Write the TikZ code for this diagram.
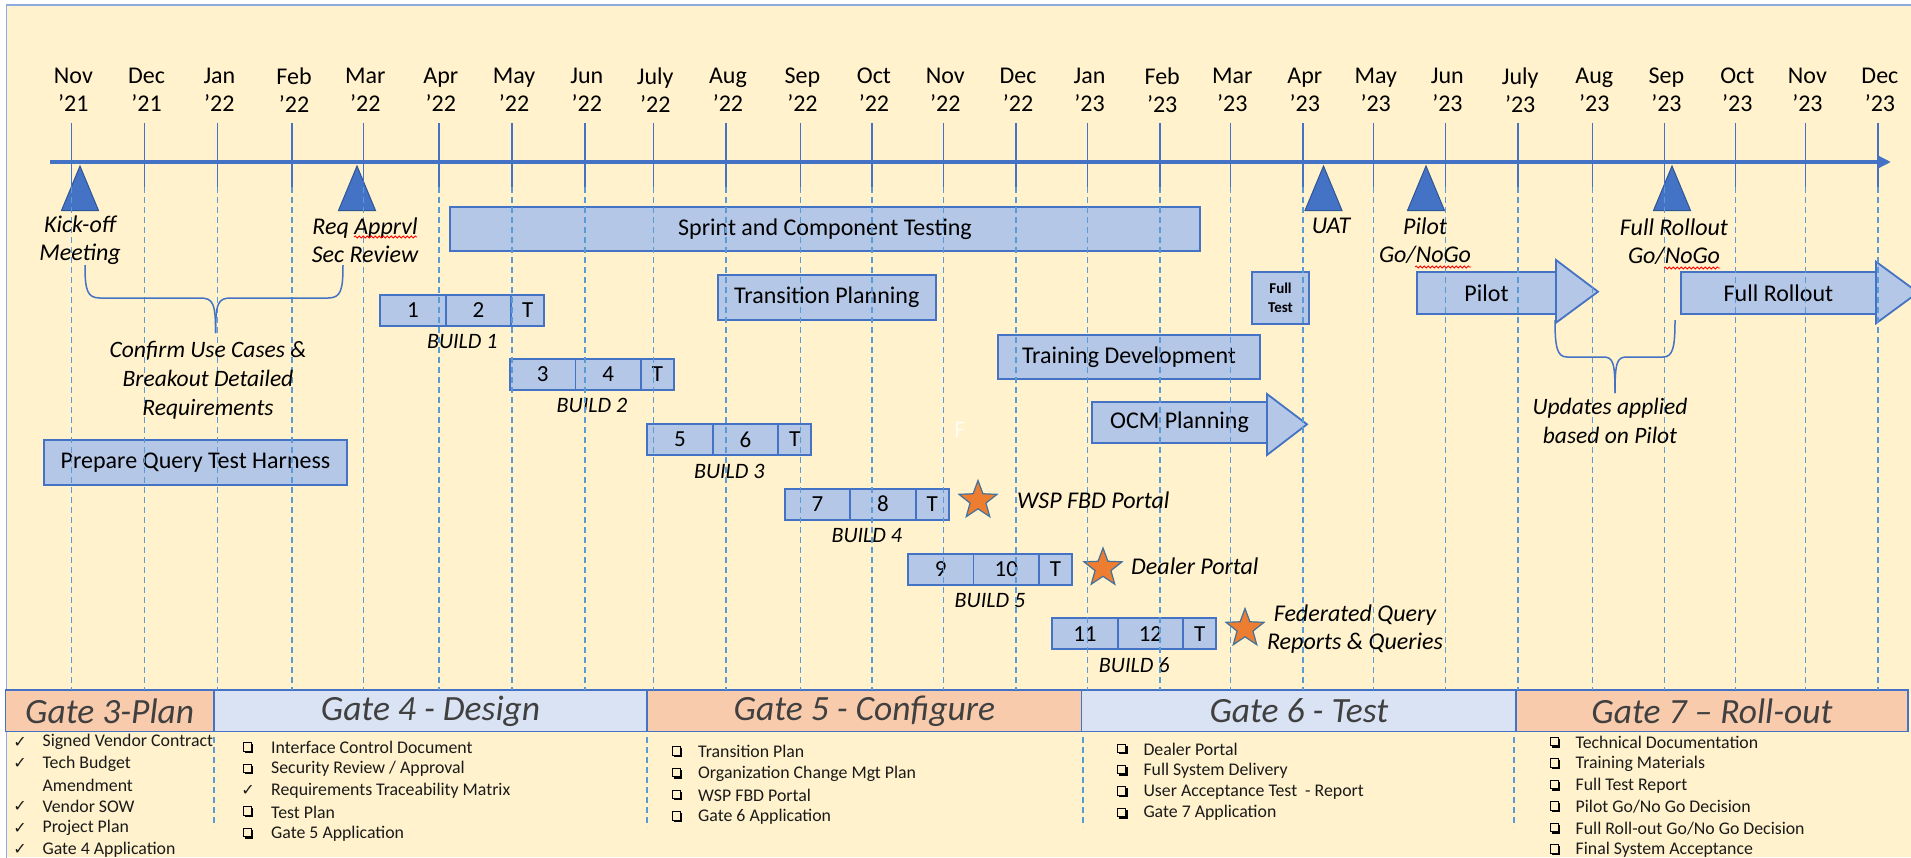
\documentclass[tikz,border=0pt]{standalone}
\usepackage{fontspec}
\setmainfont{Carlito}
\newfontfamily\djv{DejaVu Sans}
\usetikzlibrary{shapes.geometric,arrows.meta,calc,decorations.pathmorphing}
\definecolor{bgc}{HTML}{FFF2CC}
\definecolor{boxf}{HTML}{B4C7E7}
\definecolor{boxd}{HTML}{4472C4}
\definecolor{darkb}{HTML}{2F5597}
\definecolor{dashc}{HTML}{5B9BD5}
\definecolor{starf}{HTML}{ED7D31}
\definecolor{stard}{HTML}{41719C}
\definecolor{gor}{HTML}{F8CBAD}
\definecolor{gbl}{HTML}{DAE3F3}
\definecolor{framec}{HTML}{8FAADC}
\definecolor{gtxt}{HTML}{404040}
\definecolor{dtxt}{HTML}{1A1A1A}
% build box: #1 prefix, #2 x, #3 y, #4 first, #5 second, #6 label
\newcommand\buildbox[6]{%
  \node[cell, minimum width=65.5pt, anchor=north west] (#1a) at (#2,#3) {#4};
  \node[cell, minimum width=65.5pt, anchor=north west] (#1b) at (#1a.north east) {#5};
  \node[cell, minimum width=33pt, anchor=north west] (#1c) at (#1b.north east) {T};
  \node[buildlbl] (#1l) at ($(#1a.north west)+(82,47)$) {#6};
}
\begin{document}
\begin{tikzpicture}[x=1pt,y=-1pt,
  box/.style={draw=boxd, fill=boxf, line width=1.8pt, inner sep=0pt, outer sep=0pt,
    font=\fontsize{24}{28}\selectfont, text=black},
  cell/.style={box, minimum height=31pt, font=\fontsize{23}{27}\selectfont},
  month/.style={align=center, font=\fontsize{24}{28}\selectfont, inner sep=0pt},
  mlabel/.style={align=center, font=\itshape\fontsize{24}{28}\selectfont, inner sep=0pt},
  blabel/.style={align=center, font=\itshape\fontsize{23.5}{29}\selectfont, inner sep=0pt},
  buildlbl/.style={font=\itshape\fontsize{22}{26}\selectfont, inner sep=0pt},
  slabel/.style={font=\itshape\fontsize{24}{28}\selectfont, inner sep=0pt},
  gate/.style={draw=boxd, line width=1.5pt, inner sep=0pt, outer sep=0pt, anchor=north west,
    minimum height=41.7pt, font=\itshape\fontsize{35.5}{40}\selectfont, text=gtxt},
  deliv/.style={anchor=west, inner sep=0pt, font=\fontsize{17.8}{20}\selectfont, text=dtxt},
  chkn/.style={inner sep=0pt, font=\djv\fontsize{16}{18}\selectfont, text=dtxt},
  tickln/.style={draw=boxd, line width=1.5pt},
  dashln/.style={draw=dashc, line width=1.5pt, dash pattern=on 6pt off 4pt},
  bracel/.style={draw=boxd, line width=1.5pt},
  squig/.style={draw=red, line width=0.8pt, decorate, decoration={snake, amplitude=1pt, segment length=4pt}},
  mstone/.style={fill=boxd, draw=darkb, line width=1pt, line join=miter},
  ahead/.style={draw=boxd, fill=boxf, line width=1.8pt, line join=miter},
  starn/.style={star, star points=5, star point ratio=2.4, minimum size=40pt, inner sep=0pt,
    fill=starf, draw=stard, line width=1.2pt},
  sqb/.pic={\draw[line width=1pt] (-5,-5) rectangle (3.5,3.5);
            \fill (-3.5,3.5) rectangle (5.3,5.3); \fill (3.5,-3.5) rectangle (5.3,5.3);}
]
\useasboundingbox (0,0) rectangle (1911,857);
% background and frame
\fill[white] (0,0) rectangle (1911,857);
\fill[bgc] (6,5) rectangle (1911,857);
\draw[framec, line width=1.5pt] (6.5,870) -- (6.5,5) -- (1930,5);

% gate bars
\node[gate, fill=gor, minimum width=208.6pt] (g3) at (5.4,690) {Gate 3-Plan};
\node[gate, fill=gbl, minimum width=433pt] (g4) at (214,690) {Gate 4 - Design};
\node[gate, fill=gor, minimum width=434.7pt] (g5) at (647,690) {Gate 5 - Configure};
\node[gate, fill=gbl, minimum width=434.3pt] (g6) at (1081.7,690) {Gate 6 - Test};
\node[gate, fill=gor, minimum width=392pt] (g7) at (1516,690) {Gate 7 – Roll-out};

% milestone triangles
\foreach \cx in {80,357,1323.5,1426,1672}
  \draw[mstone] (\cx-18.5,210.5) -- (\cx,166) -- (\cx+18.5,210.5) -- cycle;

% activity boxes
\node[box, minimum width=303pt, minimum height=45pt] (prep) at (195.5,462.5) {Prepare Query Test Harness};
\node[box, minimum width=750pt, minimum height=44pt] (sprint) at (825,229) {Sprint and Component Testing};
\node[box, minimum width=217.7pt, minimum height=45pt] (trans) at (826.8,297.2) {Transition Planning};
\node[box, minimum width=57.5pt, minimum height=52.3pt, align=center,
  font=\bfseries\fontsize{15}{19}\selectfont] (ftest) at (1280.5,297.8) {Full\\Test};
\node[box, minimum width=262pt, minimum height=44pt] (train) at (1129,357) {Training Development};
% block arrows
\draw[ahead] (1267,394) -- (1307,424.3) -- (1267,455) -- cycle;
\node[box, minimum width=175pt, minimum height=41.7pt] (ocm) at (1179.5,422.5) {OCM Planning};
\draw[ahead] (1556,260) -- (1598,291.7) -- (1556,322.7) -- cycle;
\node[box, minimum width=139pt, minimum height=42.6pt] (pilot) at (1486.5,293) {Pilot};
\draw[ahead] (1876,261.7) -- (1918,292.5) -- (1876,323.3) -- cycle;
\node[box, minimum width=195pt, minimum height=42.6pt] (frol) at (1778.5,293) {Full Rollout};

% builds
\buildbox{bA}{380.3}{295}{1}{2}{BUILD 1}
\buildbox{bB}{510}{358.7}{3}{4}{BUILD 2}
\buildbox{bC}{647.3}{424}{5}{6}{BUILD 3}
\buildbox{bD}{784.8}{488.7}{7}{8}{BUILD 4}
\buildbox{bE}{908}{553.7}{9}{10}{BUILD 5}
\buildbox{bF}{1052.2}{618.3}{11}{12}{BUILD 6}

% stars
\node[starn] (s1) at (978,500.5) {};
\node[starn] (s2) at (1103,568) {};
\node[starn] (s3) at (1245,628.5) {};

% axis
\coordinate (axs) at (50,162);
\coordinate (axe) at (1891,162);
\draw[boxd, line width=4pt, -{Triangle[length=13pt,width=12pt]}] (axs) -- (axe);

% months, ticks, dashed lines
\foreach \x/\m/\yy [count=\i] in {71.4/Nov/’21, 144.6/Dec/’21, 217.4/Jan/’22, 292/Feb/’22,
  363.4/Mar/’22, 438.8/Apr/’22, 512/May/’22, 584.8/Jun/’22, 653.3/July/’22, 725.9/Aug/’22,
  800.4/Sep/’22, 871.9/Oct/’22, 943.3/Nov/’22, 1016/Dec/’22, 1087.5/Jan/’23, 1160.2/Feb/’23,
  1230.3/Mar/’23, 1302.8/Apr/’23, 1373.7/May/’23, 1445.4/Jun/’23, 1518.2/July/’23,
  1592.3/Aug/’23, 1664.4/Sep/’23, 1735.3/Oct/’23, 1805.4/Nov/’23, 1877.9/Dec/’23}{
  \draw[dashln] (\x,187) -- (\x,690);
  \draw[tickln] (\x,123) -- (\x,187);
  \node[month] (mon\i) at (\x+2,90) {\m\\\yy};
}
% column separators below gate bars
\foreach \x in {214,647,1083,1514}
  \draw[dashln] (\x,737) -- (\x,827);

% faint artifact letter
\node[text=white, opacity=0.8, font=\fontsize{24}{28}\selectfont, inner sep=0pt] (fnt) at (960,430) {F};

% milestone labels
\node[mlabel] (kolbl) at (80,240) {Kick-off\\Meeting};
\node[mlabel] (reqlbl) at (365,240) {Req Apprvl\\Sec Review};
\node[mlabel] (uatlbl) at (1331,226) {UAT};
\node[mlabel] (pilbl) at (1425,240.5) {Pilot\\Go/NoGo};
\node[mlabel] (frlbl) at (1674,242) {Full Rollout\\Go/NoGo};
\draw[squig] (354,237) -- (417,237);
\draw[squig] (1415,267) -- (1471,267);
\draw[squig] (1664,268) -- (1720,268);

% braces
\coordinate (b1l) at (85,265);
\coordinate (b1r) at (343,265);
\coordinate (b1t) at (215.6,333);
\draw[bracel] (b1l) .. controls (85,290) and (87,298) .. (100,298) -- (200,298)
  .. controls (213,298) and (215.6,303) .. (b1t);
\draw[bracel] (b1r) .. controls (343,290) and (341,298) .. (328,298) -- (231,298)
  .. controls (218,298) and (215.6,303) .. (b1t);
\node[blabel] (b1txt) at (208,380) {Confirm Use Cases \&\\Breakout Detailed\\Requirements};

\coordinate (b2l) at (1555,320);
\coordinate (b2r) at (1675,320);
\coordinate (b2t) at (1615,393);
\draw[bracel] (b2l) .. controls (1555,347) and (1557,357) .. (1567,357) -- (1603,357)
  .. controls (1613,357) and (1615,362) .. (b2t);
\draw[bracel] (b2r) .. controls (1675,347) and (1673,357) .. (1663,357) -- (1627,357)
  .. controls (1617,357) and (1615,362) .. (b2t);
\node[blabel] (b2txt) at (1610,421) {Updates applied\\based on Pilot};

% star labels
\node[slabel, anchor=west] (s1l) at (1017,500) {WSP FBD Portal};
\node[slabel, anchor=west] (s2l) at (1131,566.7) {Dealer Portal};
\node[slabel, align=center] (s3l) at (1355,629.5) {Federated Query\\Reports \& Queries};

% gate 3 deliverables
\foreach \t [count=\i] in {Signed Vendor Contract, Tech Budget, Amendment, Vendor SOW, Project Plan, Gate 4 Application}
  \node[deliv] (dA\i) at (42.4,{742.3+21.5*(\i-1)}) {\t};
\foreach \i in {1,2,4,5,6}
  \node[chkn] (cA\i) at (20,{742.3+21.5*(\i-1)}) {✓};
% gate 4
\foreach \t [count=\i] in {Interface Control Document, Security Review / Approval, Requirements Traceability Matrix, Test Plan, Gate 5 Application}
  \node[deliv] (dB\i) at (271,{747.7+21.4*(\i-1)}) {\t};
\foreach \i in {1,2,4,5}
  \pic at (248,{747.7+21.4*(\i-1)}) {sqb};
\node[chkn] (cB3) at (248,790.5) {✓};
% gate 5
\foreach \t [count=\i] in {Transition Plan, Organization Change Mgt Plan, WSP FBD Portal, Gate 6 Application}{
  \node[deliv] (dC\i) at (698,{751.7+21.7*(\i-1)}) {\t};
  \pic at (677,{751.7+21.7*(\i-1)}) {sqb};
}
% gate 6
\foreach \t [count=\i] in {Dealer Portal, Full System Delivery, User Acceptance Test\ \ - Report, Gate 7 Application}{
  \node[deliv] (dD\i) at (1143.3,{749+21.4*(\i-1)}) {\t};
  \pic at (1122.3,{749+21.4*(\i-1)}) {sqb};
}
% gate 7
\foreach \t [count=\i] in {Technical Documentation, Training Materials, Full Test Report, Pilot Go/No Go Decision, Full Roll-out Go/No Go Decision, Final System Acceptance}{
  \node[deliv] (dE\i) at (1575.5,{742.3+21.5*(\i-1)}) {\t};
  \pic at (1555,{742.3+21.5*(\i-1)}) {sqb};
}
\end{tikzpicture}
\end{document}
